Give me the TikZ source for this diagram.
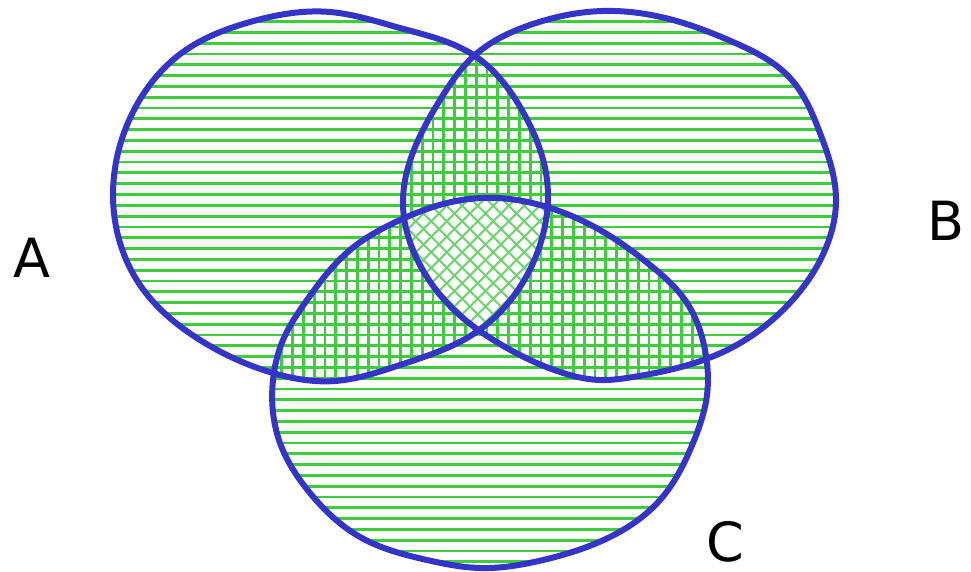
\documentclass[tikz,border=0pt]{standalone}
\usepackage{fontspec}
\setmainfont{DejaVu Sans}
\usetikzlibrary{hobby}
\definecolor{vblue}{RGB}{52,52,200}
\definecolor{hgreen}{RGB}{60,204,60}
\definecolor{dgreen}{RGB}{105,212,105}
\tikzset{
  blobA/.style={insert path={plot[closed hobby] coordinates {
    (330,12) (400,28) (475,56) (523,112) (547,180) (540,245) (509,302) (475,333)
    (400,365) (335,381) (273,373) (200,340) (140,285) (113,195) (133,112) (183,52) (250,22)}}},
  blobB/.style={insert path={plot[closed hobby] coordinates {
    (603,11) (680,22) (733,42) (790,78) (820,133) (836,200) (825,250) (783,310) (733,347)
    (633,377) (600,380) (560,372) (500,344) (454,310) (420,265) (403,205) (412,155)
    (440,100) (475,55) (530,25)}}},
  blobC/.style={insert path={plot[closed hobby] coordinates {
    (497,198) (547,207) (600,230) (650,265) (687,303) (705,350) (707,395) (693,443)
    (660,500) (610,537) (543,560) (480,568) (427,560) (360,537) (310,493) (280,443)
    (273,380) (283,340) (307,300) (350,250) (400,220) (447,203)}}},
  outline/.style={draw=vblue, line width=6pt, line join=round},
  hline/.style={draw=hgreen, line width=2.8pt},
  dline/.style={draw=dgreen, line width=1.8pt},
  lbl/.style={font=\fontsize{54}{60}\selectfont, text=black, inner sep=0pt, anchor=base}
}
\begin{document}
\begin{tikzpicture}[x=1pt,y=-1pt]
\useasboundingbox (0,0) rectangle (971,572);
% horizontal hatching in each blob
\begin{scope}\clip[blobA];
  \foreach \k in {0,...,52} \draw[hline] (100,{21.7+10.8*\k}) -- (560,{21.7+10.8*\k});
\end{scope}
\begin{scope}\clip[blobB];
  \foreach \k in {0,...,52} \draw[hline] (390,{21.7+10.8*\k}) -- (850,{21.7+10.8*\k});
\end{scope}
\begin{scope}\clip[blobC];
  \foreach \k in {0,...,52} \draw[hline] (260,{21.7+10.8*\k}) -- (720,{21.7+10.8*\k});
\end{scope}
% vertical hatching in pairwise overlaps
\begin{scope}\clip[blobA];\clip[blobB];
  \foreach \k in {-10,...,50} \draw[hline] ({325+10.8*\k},0) -- ({325+10.8*\k},572);
\end{scope}
\begin{scope}\clip[blobA];\clip[blobC];
  \foreach \k in {-10,...,50} \draw[hline] ({325+10.8*\k},0) -- ({325+10.8*\k},572);
\end{scope}
\begin{scope}\clip[blobB];\clip[blobC];
  \foreach \k in {-10,...,50} \draw[hline] ({325+10.8*\k},0) -- ({325+10.8*\k},572);
\end{scope}
% triple overlap: diagonal cross hatching
\begin{scope}\clip[blobA];\clip[blobB];\clip[blobC];
  \fill[white] (380,180) rectangle (580,350);
  \foreach \k in {-20,...,20} {
    \draw[dline] ({470+15.5*\k-200},60) -- ({470+15.5*\k+200},460);
    \draw[dline] ({470+15.5*\k+200},60) -- ({470+15.5*\k-200},460);
  }
\end{scope}
% outlines
\draw[outline, blobA];
\draw[outline, blobB];
\draw[outline, blobC];
% labels
\node[lbl] (labA) at (32,277) {A};
\node[lbl] (labB) at (946,240) {B};
\node[lbl] (labC) at (725,561) {C};
\end{tikzpicture}
\end{document}
